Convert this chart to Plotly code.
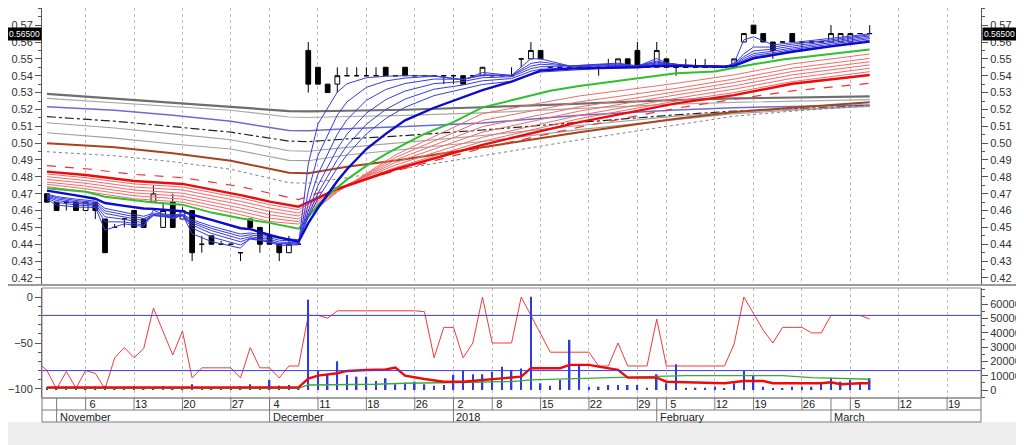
import plotly.graph_objects as go
from plotly.subplots import make_subplots

# x = trading-day number, 0 = 30 Oct 2017 (exchange holidays are skipped)
day = list(range(1, 87))

opens = [
    .470, .465, .465, .465, .460, .465, .455, .450, .455, .460,
    .455, .465, .450, .465, .455, .460, .440, .445, .440, .440,
    .435, .455, .450, .445, .440, .435, .440, .555, .545, .535,
    .535, .540, .540, .540, .540, .545, .540, .545, .540, .540,
    .540, .540, .540, .540, .540, .540, .540, .540, .540, .550,
    .550, .555, .545, .545, .545, .545, .545, .545, .545, .545,
    .550, .555, .545, .545, .550, .545, .545, .545, .545, .545,
    .545, .545, .560, .570, .565, .560, .560, .565, .560, .560,
    .560, .560, .560, .560, .565, .565]
highs = [
    .470, .465, .465, .465, .465, .465, .455, .452, .455, .460,
    .455, .475, .465, .470, .462, .460, .445, .445, .442, .440,
    .435, .455, .450, .460, .440, .445, .440, .560, .545, .535,
    .545, .545, .545, .545, .545, .545, .540, .545, .540, .540,
    .540, .540, .540, .540, .540, .545, .540, .540, .545, .550,
    .560, .555, .545, .545, .545, .545, .545, .545, .550, .550,
    .550, .560, .545, .560, .550, .545, .550, .550, .550, .545,
    .545, .550, .565, .570, .565, .560, .560, .565, .560, .560,
    .560, .570, .565, .565, .565, .570]
lows = [
    .465, .460, .460, .460, .460, .455, .435, .450, .450, .450,
    .450, .465, .450, .450, .455, .430, .435, .440, .440, .440,
    .430, .450, .435, .440, .430, .435, .440, .530, .535, .530,
    .530, .540, .540, .540, .540, .540, .540, .540, .540, .540,
    .540, .535, .535, .535, .540, .540, .540, .540, .540, .545,
    .550, .550, .545, .545, .545, .545, .545, .540, .545, .545,
    .545, .545, .545, .545, .545, .540, .545, .545, .545, .545,
    .545, .545, .560, .565, .560, .550, .560, .560, .555, .560,
    .560, .560, .560, .560, .565, .565]
closes = [
    .465, .460, .465, .460, .465, .460, .435, .450, .455, .450,
    .450, .470, .460, .450, .460, .435, .440, .440, .440, .440,
    .435, .450, .440, .440, .435, .440, .440, .535, .535, .530,
    .540, .540, .540, .540, .540, .540, .540, .540, .540, .540,
    .540, .540, .540, .535, .540, .545, .540, .540, .540, .550,
    .555, .550, .545, .545, .545, .545, .545, .545, .545, .550,
    .545, .545, .545, .555, .545, .545, .545, .545, .545, .545,
    .545, .550, .565, .565, .560, .555, .560, .560, .560, .560,
    .560, .565, .565, .565, .565, .565]

# slow averages (read at a few days)
slow_x = [1, 8, 14, 20, 26, 28, 32, 38, 46, 56, 66, 72, 78, 86]
ma_darkgray = [.5292, .5265, .5240, .5215, .5190, .5188, .5192, .5198, .5213, .5235, .5256, .5265, .5270, .5278]
ma_gray1 = [.5266, .5240, .5218, .5195, .5155, .5152, .5158, .5165, .5180, .5205, .5232, .5242, .5250, .5258]
ma_slate = [.5216, .5195, .5165, .5130, .5075, .5073, .5085, .5098, .5120, .5165, .5197, .5210, .5218, .5226]
ma_dashdot = [.5157, .5130, .5098, .5065, .5012, .5009, .5025, .5045, .5078, .5125, .5168, .5190, .5205, .5222]
ma_gray2 = [.5121, .5090, .5055, .5020, .4955, .4952, .4975, .5005, .5045, .5105, .5160, .5185, .5200, .5220]
ma_gray3 = [.5062, .5030, .4995, .4965, .4898, .4896, .4930, .4965, .5010, .5080, .5140, .5175, .5195, .5218]
ma_brown = [.4999, .4975, .4940, .4895, .4825, .4822, .4860, .4905, .4975, .5065, .5145, .5185, .5210, .5242]
ma_dotted = [.4949, .4925, .4890, .4845, .4765, .4762, .4795, .4850, .4925, .5020, .5110, .5160, .5190, .5222]

# long-term red group
red_x = [1, 5, 10, 15, 21, 24, 27, 28, 31, 37, 46, 56, 66, 72, 78, 86]
red_dashed = [.4866, .4848, .4815, .4795, .4742, .4702, .4665, .4685, .4740, .4835, .4970, .5095, .5207, .5260, .5310, .5355]
red_thick = [.4831, .4811, .4775, .4758, .4692, .4653, .4623, .4650, .4728, .4845, .4990, .5125, .5236, .5285, .5352, .5404]
red_6 = [.4817, .4795, .4758, .4740, .4675, .4635, .4605, .4635, .4730, .4855, .5010, .5145, .5250, .5300, .5365, .5424]
red_5 = [.4801, .4778, .4740, .4722, .4655, .4615, .4585, .4620, .4730, .4870, .5035, .5165, .5266, .5320, .5385, .5444]
red_4 = [.4785, .4762, .4722, .4703, .4635, .4595, .4568, .4605, .4725, .4885, .5065, .5190, .5286, .5340, .5405, .5464]
red_3 = [.4769, .4745, .4705, .4685, .4615, .4575, .4550, .4595, .4720, .4900, .5098, .5215, .5305, .5360, .5425, .5483]
red_2 = [.4756, .4729, .4688, .4668, .4595, .4555, .4535, .4580, .4715, .4915, .5135, .5245, .5325, .5380, .5445, .5503]
red_1 = [.4742, .4713, .4670, .4650, .4575, .4535, .4520, .4570, .4710, .4930, .5175, .5280, .5355, .5405, .5470, .5529]

green_x = [1, 5, 7, 12, 15, 18, 21, 24, 27, 28, 29, 30, 32, 34, 36, 38, 40, 43, 46, 49,
           53, 56, 60, 63, 66, 70, 73, 77, 82, 86]
green = [.4732, .4712, .4682, .4648, .4635, .4588, .4554, .4527, .4492, .4565, .4632, .4688, .4785, .4865, .4935,
         .4995, .5055, .5125, .5212, .5254, .5311, .5339, .5368, .5390, .5415, .5425, .5458, .5496, .5530, .5555]

# short-term blue group
blue_x = [1, 2, 4, 6, 7, 9, 11, 12, 14, 15, 16, 18, 21, 22, 24, 25, 27, 28, 29, 30, 31, 32, 34,
          36, 38, 41, 44, 46, 49, 51, 52, 55, 60, 62, 64, 65, 67, 71, 72, 73, 74, 76, 78, 82, 86]
blue_1 = [.4665, .4633, .4621, .4618, .4484, .4521, .4505, .4603, .4551, .4575, .4463, .4416, .4377, .4438, .4410,
          .4405, .4401, .4876, .5113, .5206, .5303, .5352, .5388, .5397, .5400, .5400, .5375, .5419, .5402, .5501,
          .5500, .5458, .5475, .5456, .5502, .5476, .5457, .5450, .5475, .5613, .5631, .5583, .5596, .5624, .5648]
blue_2 = [.4673, .4649, .4633, .4626, .4534, .4532, .4514, .4576, .4556, .4571, .4497, .4443, .4396, .4431, .4414,
          .4393, .4397, .4715, .4926, .5051, .5167, .5245, .5331, .5369, .5386, .5397, .5377, .5406, .5402, .5473,
          .5482, .5458, .5470, .5459, .5487, .5475, .5462, .5455, .5470, .5530, .5570, .5570, .5587, .5613, .5643]
blue_3 = [.4680, .4660, .4643, .4634, .4563, .4548, .4527, .4570, .4558, .4569, .4514, .4464, .4415, .4436, .4420,
          .4403, .4402, .4639, .4816, .4937, .5053, .5140, .5254, .5318, .5354, .5380, .5379, .5401, .5400, .5457,
          .5468, .5458, .5465, .5458, .5480, .5473, .5462, .5455, .5467, .5513, .5547, .5558, .5576, .5605, .5636]
blue_4 = [.4686, .4669, .4652, .4641, .4583, .4563, .4541, .4572, .4562, .4570, .4526, .4481, .4431, .4445, .4429,
          .4413, .4409, .4597, .4748, .4858, .4967, .5053, .5178, .5258, .5309, .5353, .5366, .5388, .5394, .5442,
          .5454, .5452, .5461, .5457, .5475, .5470, .5463, .5456, .5465, .5502, .5531, .5546, .5565, .5596, .5628]
blue_5 = [.4692, .4677, .4660, .4648, .4598, .4576, .4553, .4577, .4568, .4573, .4536, .4494, .4447, .4456, .4439,
          .4424, .4417, .4573, .4703, .4803, .4902, .4985, .5112, .5200, .5261, .5320, .5345, .5370, .5383, .5427,
          .5439, .5444, .5456, .5454, .5469, .5466, .5461, .5455, .5463, .5494, .5520, .5536, .5556, .5587, .5620]
blue_6 = [.4697, .4683, .4668, .4656, .4613, .4590, .4566, .4585, .4575, .4579, .4546, .4507, .4461, .4467, .4450,
          .4436, .4427, .4559, .4672, .4762, .4853, .4931, .5055, .5146, .5213, .5282, .5319, .5348, .5367, .5409,
          .5422, .5433, .5449, .5449, .5463, .5461, .5458, .5454, .5461, .5488, .5511, .5528, .5548, .5579, .5611]
blue_thick = [.4718, .4710, .4690, .4670, .4645, .4628, .4612, .4610, .4598, .4596, .4575, .4545, .4495, .4490, .4455,
              .4440, .4415, .4525, .4615, .4695, .4775, .4845, .4965, .5055, .5135, .5210, .5275, .5315, .5365, .5410,
              .5430, .5442, .5448, .5450, .5458, .5458, .5457, .5453, .5458, .5480, .5503, .5522, .5542, .5574, .5602]

# lower pane
wr_x = list(range(0, 87))
wr = [-70, -80, -100, -81, -99, -80, -83, -100, -66, -55,
      -66, -56, -12, -37, -63, -37, -88, -77, -77, -77,
      -77, -88, -55, -77, -77, -88, -75, -75, -20, -20,
      -23, -15, -15, -15, -15, -15, -15, -15, -15, -15,
      -16, -66, -33, -33, -66, -50, 0, -50, -50, -50,
      0, -20, -41, -60, -60, -60, -60, -60, -75, -75,
      -50, -75, -75, -75, -24, -75, -75, -75, -75, -75,
      -75, -75, -51, 0, -18, -36, -50, -33, -33, -33,
      -39, -39, -20, -20, -20, -20, -24]
wr_levels = [-20, -80]

vol = [2000, 1500, 2500, 1500, 2000, 2500, 3000, 1500, 2000, 2500,
       1800, 2200, 2800, 2000, 1500, 4000, 2000, 1800, 1500, 1500,
       2500, 4000, 2500, 7000, 3000, 3500, 1000, 63000, 14000, 10500,
       20000, 10500, 9300, 9300, 6300, 8200, 4000, 5100, 5800, 4000,
       3000, 3500, 10500, 13300, 11000, 11000, 12800, 16300, 14000, 15000,
       65000, 4700, 3000, 7000, 35000, 18000, 2300, 2300, 3500, 3500,
       3500, 3500, 1600, 11000, 4700, 18000, 1600, 1600, 1600, 2300,
       1200, 4700, 13300, 10500, 2300, 1200, 1200, 2300, 2300, 2300,
       4700, 8600, 5800, 7000, 4700, 8200]
volma_fast_x = [1, 27, 28, 29, 31, 32, 34, 36, 37, 38, 40, 42, 44, 48, 49, 50, 51, 54, 55, 57,
                58, 60, 61, 64, 65, 71, 73, 75, 76, 81, 82, 83, 85, 86]
volma_fast = [1800, 1800, 8000, 10000, 11700, 13300, 14000, 14300, 15600, 10000, 7700, 5800, 5800, 8200, 8600,
              9300, 15200, 15200, 17500, 17500, 16300, 14000, 8600, 8600, 5800, 4700, 6300, 6300, 4700, 4700,
              5400, 4000, 4700, 4700]
volma_slow_x = [1, 27, 28, 31, 35, 38, 42, 45, 48, 49, 51, 54, 58, 63, 67, 77, 80, 84, 86]
volma_slow = [1200, 1200, 3500, 3500, 4000, 4700, 5400, 5400, 5800, 5800, 7000, 7700, 8600, 9300, 10000,
              10000, 8600, 7700, 7500]

# date axis
tick_idx = [5, 10, 15, 20, 24, 29, 34, 39, 43, 47, 52, 57, 62, 65, 70, 74, 79, 84, 89, 94]
tick_txt = ["6", "13", "20", "27", "4", "11", "18", "26", "2", "8", "15", "22", "29", "5", "12", "19",
            "26", "5", "12", "19"]
month_idx = [2, 24, 43, 64, 82]
month_txt = ["November", "December", "2018", "February", "March"]
price_ticks = [0.42, 0.43, 0.44, 0.45, 0.46, 0.47, 0.48, 0.49, 0.50, 0.51, 0.52, 0.53, 0.54, 0.55, 0.56, 0.57]
last_price = 0.565

fig = make_subplots(rows=2, cols=1, shared_xaxes=True,
                    specs=[[{"secondary_y": True}], [{"secondary_y": True}]])

ma_lines = [
    (slow_x, ma_darkgray, "#6e6e6e", 2.2, "solid"),
    (slow_x, ma_gray1, "#a8a8a8", 1.2, "solid"),
    (slow_x, ma_slate, "#6b6bd0", 1.5, "solid"),
    (slow_x, ma_dashdot, "#222222", 1.2, "dashdot"),
    (slow_x, ma_gray2, "#a0a0a0", 1.1, "solid"),
    (slow_x, ma_gray3, "#a0a0a0", 1.1, "solid"),
    (slow_x, ma_dotted, "#808080", 1.0, "dot"),
    (slow_x, ma_brown, "#a8431c", 2.0, "solid"),
    (red_x, red_dashed, "#f03030", 1.2, "dash"),
    (red_x, red_6, "#f46a6a", 1.0, "solid"),
    (red_x, red_5, "#f46a6a", 1.0, "solid"),
    (red_x, red_4, "#f46a6a", 1.0, "solid"),
    (red_x, red_3, "#f46a6a", 1.0, "solid"),
    (red_x, red_2, "#f46a6a", 1.0, "solid"),
    (red_x, red_1, "#f46a6a", 1.0, "solid"),
    (red_x, red_thick, "#ee0a0a", 2.4, "solid"),
    (green_x, green, "#2ec02e", 2.0, "solid"),
    (blue_x, blue_1, "#3a3ae0", 1.0, "solid"),
    (blue_x, blue_2, "#3a3ae0", 1.0, "solid"),
    (blue_x, blue_3, "#3a3ae0", 1.0, "solid"),
    (blue_x, blue_4, "#3a3ae0", 1.0, "solid"),
    (blue_x, blue_5, "#3a3ae0", 1.0, "solid"),
    (blue_x, blue_6, "#3a3ae0", 1.0, "solid"),
    (blue_x, blue_thick, "#0a0ad0", 2.4, "solid"),
]
for xs, ys, col, w, dash in ma_lines:
    fig.add_trace(go.Scatter(x=xs, y=ys, mode="lines", line=dict(color=col, width=w, dash=dash),
                             hoverinfo="skip"), row=1, col=1)

fig.add_trace(go.Candlestick(x=day, open=opens, high=highs, low=lows, close=closes,
                             increasing=dict(line=dict(color="black", width=1), fillcolor="white"),
                             decreasing=dict(line=dict(color="black", width=1), fillcolor="black"),
                             whiskerwidth=0), row=1, col=1)
# keeps the right-hand price axis alive
fig.add_trace(go.Scatter(x=day[:1], y=closes[:1], mode="markers", marker=dict(opacity=0),
                         hoverinfo="skip"), row=1, col=1, secondary_y=True)

fig.add_trace(go.Scatter(x=wr_x, y=wr, mode="lines", line=dict(color="#f03a3a", width=1)),
              row=2, col=1)
fig.add_trace(go.Bar(x=day, y=vol, width=0.16, marker=dict(color="#2b3bdc", line=dict(width=0))),
              row=2, col=1, secondary_y=True)
fig.add_trace(go.Scatter(x=volma_slow_x, y=volma_slow, mode="lines", line=dict(color="#3aa83a", width=1.3)),
              row=2, col=1, secondary_y=True)
fig.add_trace(go.Scatter(x=volma_fast_x, y=volma_fast, mode="lines", line=dict(color="#ee0a0a", width=2.4)),
              row=2, col=1, secondary_y=True)

for lvl in wr_levels:
    fig.add_shape(type="line", xref="x2 domain", x0=0, x1=1, yref="y3", y0=lvl, y1=lvl,
                  line=dict(color="#3c3cf4", width=1))

# the page body has an 8px margin, so the figure is 8px smaller than the window
FW, FH = 1016, 437
H = 390.0  # plot-area height in px
W = 939.0  # plot-area width in px
sep = dict(color="#7a7a7a", width=1)
shapes = [
    dict(type="rect", xref="paper", yref="paper", x0=-34 / W, x1=982 / W, y0=-24 / H, y1=-47 / H,
         fillcolor="#eeeeee", line=dict(width=0), layer="below"),
    dict(type="rect", xref="paper", yref="paper", x0=0, x1=1, y0=0, y1=-24 / H, line=sep),
    dict(type="line", xref="paper", yref="paper", x0=0, x1=1, y0=-12 / H, y1=-12 / H, line=sep),
    dict(type="line", xref="paper", yref="paper", x0=-34 / W, x1=982 / W, y0=113 / H, y1=113 / H,
         line=dict(color="#9a9a9a", width=2)),
    dict(type="rect", xref="paper", yref="paper", x0=0, x1=1, y0=0, y1=110 / H,
         line=dict(color="#8a8a8a", width=1)),
]
for v in tick_idx:
    shapes.append(dict(type="line", xref="x2", yref="paper", x0=v, x1=v, y0=0, y1=-12 / H, line=sep))
for v in month_idx:
    shapes.append(dict(type="line", xref="x2", yref="paper", x0=v, x1=v, y0=0, y1=-24 / H, line=sep))
for s in shapes:
    fig.add_shape(**s)

for v, t in zip(month_idx, month_txt):
    fig.add_annotation(x=v, xref="x2", y=-18.5 / H, yref="paper", text=t, showarrow=False,
                       xanchor="left", yanchor="middle", xshift=1, font=dict(size=11, color="#222"))
for xp, anchor, shift in [(0, "right", 0), (1, "left", 1)]:
    fig.add_annotation(x=xp, xref="paper", y=last_price, yref="y", text="%.5f" % last_price,
                       showarrow=False, xanchor=anchor, xshift=shift, bgcolor="black",
                       font=dict(size=8.5, color="white"), borderpad=1)

price_range = [0.41584, 0.58017]
axis_font = dict(size=11, color="#333")
price_axis = dict(range=price_range, tickvals=price_ticks, tickformat=".2f", ticks="outside",
                  ticklen=6, tickcolor="#555", showline=True, linecolor="#555", showgrid=False,
                  zeroline=False, tickfont=axis_font, automargin=False,
                  minor=dict(ticks="outside", ticklen=3, dtick=0.005, tickcolor="#555"))
date_axis = dict(domain=[0, 1], range=[0.49, 97.5], tickvals=tick_idx, ticks="", showgrid=True,
                 gridcolor="#bdbdbd", griddash="dot", zeroline=False, automargin=False)

fig.update_layout(
    width=FW, height=FH, margin=dict(l=34, r=43, t=0, b=47, autoexpand=False),
    paper_bgcolor="white", plot_bgcolor="white", showlegend=False,
    font=dict(family="Arial, Liberation Sans, sans-serif", size=11, color="#222"),
    xaxis_rangeslider_visible=False,
    xaxis=dict(showticklabels=False, **date_axis),
    xaxis2=dict(ticktext=tick_txt, tickfont=dict(size=11, color="#222"), ticklabelshift=7,
                ticklabelstandoff=-2, **date_axis),
    yaxis=dict(domain=[113 / H, 1], **price_axis),
    yaxis2=dict(side="right", **price_axis),
    yaxis3=dict(domain=[0, 110 / H], range=[-109.8, 9.8], tickvals=[0, -50, -100], ticks="outside",
                ticklen=6, tickcolor="#555", showline=True, linecolor="#555", showgrid=False,
                zeroline=False, tickfont=axis_font, automargin=False,
                minor=dict(ticks="outside", ticklen=3, dtick=10, tickcolor="#555")),
    yaxis4=dict(range=[-5581, 71163], tickvals=[0, 10000, 20000, 30000, 40000, 50000, 60000],
                tickformat="d", ticks="outside", ticklen=6, tickcolor="#555", showline=True,
                linecolor="#555", showgrid=False, zeroline=False, tickfont=axis_font, automargin=False,
                minor=dict(ticks="outside", ticklen=3, dtick=5000, tickcolor="#555")),
)

fig.write_html("out.html")
